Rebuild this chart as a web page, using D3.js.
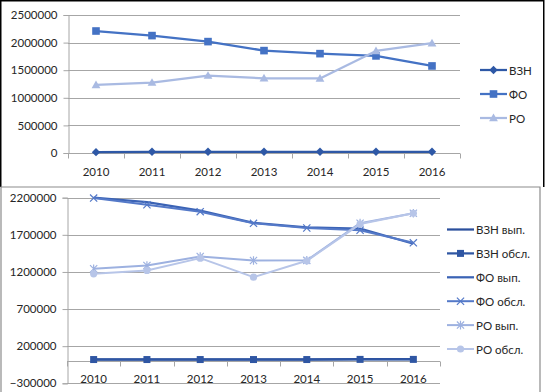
<!DOCTYPE html>
<html><head><meta charset="utf-8">
<script src="https://cdn.jsdelivr.net/npm/d3@7"></script>
<style>
html,body{margin:0;padding:0;background:#fff;}
svg{display:block;}
text{font-family:Lato,"Open Sans",sans-serif;font-size:11.5px;fill:#262626;}
</style></head>
<body>
<svg id="c" width="545" height="392"></svg>
<script>
const years = ["2010","2011","2012","2013","2014","2015","2016"];
// top chart
const topTicks = [0,500000,1000000,1500000,2000000,2500000];
const topVZN = [15000,22000,22000,22000,22000,22000,22000];
const topFO  = [2210000,2127000,2018000,1855000,1800000,1759000,1577000];
const topRO  = [1233000,1275000,1401000,1354000,1350000,1849000,1989000];
const topNames = ["ВЗН","ФО","РО"];
// bottom chart
const botTicks = [-300000,200000,700000,1200000,1700000,2200000];
const vznVyp  = [22000,22000,22000,22000,22000,25000,25000];
const vznObsl = [20000,20000,20000,20000,20000,22000,22000];
const foVyp   = [2200000,2140000,2025000,1860000,1800000,1785000,1580000];
const foObsl  = [2195000,2105000,2012000,1855000,1792000,1762000,1592000];
const roVyp   = [1243000,1287000,1408000,1354000,1356000,1857000,1990000];
const roObsl  = [1175000,1220000,1386000,1130000,1350000,1845000,1990000];
const botNames = ["ВЗН вып.","ВЗН обсл.","ФО вып.","ФО обсл.","РО вып.","РО обсл."];

const svg = d3.select("#c");
const gridC = "#a6a6a6";

function marker(g, type, x, y, color, s){
  if(type==="diamond"){
    g.append("path").attr("d",`M${x},${y-s}L${x+s},${y}L${x},${y+s}L${x-s},${y}Z`).attr("fill",color);
  } else if(type==="square"){
    g.append("rect").attr("x",x-s).attr("y",y-s).attr("width",2*s).attr("height",2*s).attr("fill",color);
  } else if(type==="triangle"){
    g.append("path").attr("d",`M${x},${y-s*1.1}L${x+s*1.1},${y+s*0.8}L${x-s*1.1},${y+s*0.8}Z`).attr("fill",color);
  } else if(type==="x"){
    g.append("path").attr("d",`M${x-s},${y-s}L${x+s},${y+s}M${x-s},${y+s}L${x+s},${y-s}`).attr("stroke",color).attr("stroke-width",1.2).attr("fill","none");
  } else if(type==="ast"){
    g.append("path").attr("d",`M${x-s},${y-s}L${x+s},${y+s}M${x-s},${y+s}L${x+s},${y-s}M${x},${y-s*1.2}L${x},${y+s*1.2}`).attr("stroke",color).attr("stroke-width",1.2).attr("fill","none");
  } else if(type==="circle"){
    g.append("circle").attr("cx",x).attr("cy",y).attr("r",s).attr("fill",color);
  }
}

function drawChart(cfg){
  const g = svg.append("g");
  const x = d3.scalePoint().domain(years).range([cfg.x0,cfg.x1]).padding(0.5);
  const xb = d3.scaleBand().domain(years).range([cfg.x0,cfg.x1]);
  const y = d3.scaleLinear().domain(cfg.domain).range([cfg.yb,cfg.yt]);
  g.selectAll(".grid").data(cfg.ticks).join("line")
    .attr("x1",cfg.x0).attr("x2",cfg.x1).attr("y1",d=>Math.round(y(d))+0.5).attr("y2",d=>Math.round(y(d))+0.5)
    .attr("stroke",gridC).attr("stroke-width",1);
  const ya = d3.axisLeft(y).tickValues(cfg.ticks).tickSize(5).tickPadding(6).tickFormat(d3.format("d"));
  const yg = g.append("g").attr("transform",`translate(${cfg.x0+0.5},0)`).call(ya);
  yg.select(".domain").attr("stroke",gridC);
  yg.selectAll(".tick line").attr("stroke",gridC);
  yg.selectAll(".tick text").attr("fill","#262626").style("font-family","Lato,'Open Sans',sans-serif").style("font-size","11.5px");
  const y0 = Math.round(y(0))+0.5;
  g.append("line").attr("x1",cfg.x0).attr("x2",cfg.x1).attr("y1",y0).attr("y2",y0).attr("stroke",gridC);
  const bounds = years.map(d=>xb(d)).concat([cfg.x1]);
  g.selectAll(".xt").data(bounds).join("line")
    .attr("x1",d=>Math.round(d)+0.5).attr("x2",d=>Math.round(d)+0.5).attr("y1",y0).attr("y2",y0+5).attr("stroke",gridC);
  g.selectAll(".xl").data(years).join("text")
    .attr("x",d=>x(d)).attr("y",cfg.xLabelY).attr("text-anchor","middle").attr("dominant-baseline","central").text(d=>d);
  const line = d3.line().x((d,i)=>x(years[i])).y(d=>y(d));
  cfg.series.forEach(s=>{
    g.append("path").datum(s.values).attr("d",line).attr("fill","none")
      .attr("stroke",s.color).attr("stroke-width",s.w||2.25).attr("stroke-linejoin","round");
    if(s.marker){
      s.values.forEach((v,i)=>marker(g,s.marker,x(years[i]),y(v),s.mcolor||s.color,s.ms));
    }
  });
  cfg.series.forEach((s,i)=>{
    const ly = cfg.legY0 + i*cfg.legStep;
    g.append("line").attr("x1",cfg.legX).attr("x2",cfg.legX+27).attr("y1",ly).attr("y2",ly)
      .attr("stroke",s.color).attr("stroke-width",s.w||2.25);
    if(s.marker) marker(g,s.marker,cfg.legX+13.5,ly,s.mcolor||s.color,s.ms);
    g.append("text").attr("x",cfg.legX+29).attr("y",ly).attr("dominant-baseline","central").text(cfg.names[i]);
  });
}

// frames
svg.append("path").attr("d","M0.75,187V0.75H543.75V187").attr("fill","none").attr("stroke","#000").attr("stroke-width",1.5);
svg.append("path").attr("d","M1,392V187H540V392").attr("fill","none").attr("stroke","#8c8c8c").attr("stroke-width",1.2);

drawChart({
  x0:68,x1:460,yt:15,yb:153,domain:[0,2500000],ticks:topTicks,xLabelY:171,
  names:topNames,legX:480,legY0:70,legStep:24,
  series:[
    {values:topVZN,color:"#2E58A6",marker:"diamond",ms:4.2},
    {values:topFO,color:"#4472C4",marker:"square",ms:3.8},
    {values:topRO,color:"#A9BAE2",marker:"triangle",ms:4}
  ]
});

drawChart({
  x0:67,x1:440,yt:197.7,yb:383.3,domain:[-300000,2200000],ticks:botTicks,xLabelY:378,
  names:botNames,legX:447,legY0:229.5,legStep:23.9,
  series:[
    {values:vznVyp,color:"#2B4F9C"},
    {values:vznObsl,color:"#2F56A3",marker:"square",ms:3.5},
    {values:foVyp,color:"#3B63B5"},
    {values:foObsl,color:"#5479C8",marker:"x",ms:3.6,w:2},
    {values:roVyp,color:"#9DB1E0",marker:"ast",ms:3.6,w:2},
    {values:roObsl,color:"#B7C5E8",marker:"circle",ms:3.6,w:2}
  ]
});
</script>
</body></html>
